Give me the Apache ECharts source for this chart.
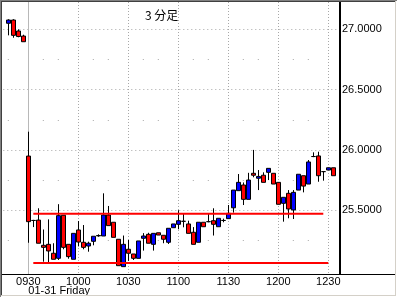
<!DOCTYPE html>
<html><head><meta charset="utf-8">
<script src="https://cdn.jsdelivr.net/npm/echarts@6/dist/echarts.min.js"></script>
<style>html,body{margin:0;padding:0;background:#fff}#c{width:398px;height:299px}</style>
</head><body><div id="c"></div><script>
// x categories (3-minute bars); first/last are empty padding slots
const categories = ['1545','1548','1551','1554','1557',
 '0930','0933','0936','0939','0942','0945','0948','0951','0954','0957',
 '1000','1003','1006','1009','1012','1015','1018','1021','1024','1027',
 '1030','1033','1036','1039','1042','1045','1048','1051','1054','1057',
 '1100','1103','1106','1109','1112','1115','1118','1121','1124','1127',
 '1130','1133','1136','1139','1142','1145','1148','1151','1154','1157',
 '1200','1203','1206','1209','1212','1215','1218','1221','1224','1227',
 '1230','1233','1236'];
const candleTimes = categories.slice(1, 67);
const opens  = [27.05,27.077,26.986,26.944,25.949,25.415,25.418,25.209,25.217,25.143,25.101,25.458,25.217,25.093,25.336,25.234,25.203,25.242,25.287,25.286,25.46,25.40,25.259,25.032,25.176,25.137,25.101,25.267,25.30,25.217,25.313,25.292,25.234,25.355,25.383,25.408,25.386,25.317,25.234,25.40,25.405,25.413,25.363,25.415,25.43,25.52,25.662,25.709,25.59,25.806,25.765,25.79,25.814,25.806,25.731,25.557,25.64,25.502,25.667,25.786,25.717,25.945,25.95,25.82,25.833,25.852];
const closes = [27.077,26.95,26.94,26.897,25.405,25.415,25.226,25.192,25.162,25.093,25.455,25.192,25.115,25.308,25.236,25.192,25.226,25.284,25.29,25.46,25.372,25.275,25.04,25.217,25.143,25.101,25.245,25.286,25.226,25.308,25.294,25.259,25.35,25.386,25.413,25.408,25.308,25.217,25.40,25.363,25.405,25.383,25.433,25.415,25.474,25.667,25.731,25.59,25.75,25.79,25.78,25.731,25.847,25.717,25.549,25.607,25.51,25.648,25.798,25.70,25.90,25.945,25.786,25.82,25.852,25.786];
const lows   = [26.95,26.93,26.934,26.897,25.23,25.36,25.226,25.073,25.06,25.093,25.087,25.176,25.098,25.093,25.2,25.176,25.156,25.209,25.28,25.286,25.372,25.275,25.04,25.032,25.08,25.087,25.101,25.165,25.226,25.165,25.294,25.226,25.22,25.355,25.342,25.358,25.308,25.217,25.234,25.363,25.40,25.29,25.363,25.40,25.43,25.48,25.662,25.543,25.59,25.773,25.667,25.731,25.75,25.717,25.549,25.405,25.433,25.427,25.667,25.648,25.717,25.94,25.736,25.745,25.833,25.786];
const highs  = [27.083,27.083,27.0,26.955,26.151,25.42,25.516,25.34,25.424,25.226,25.55,25.458,25.217,25.308,25.41,25.377,25.239,25.284,25.30,25.64,25.535,25.40,25.259,25.29,25.253,25.137,25.245,25.31,25.313,25.308,25.313,25.292,25.35,25.386,25.50,25.474,25.413,25.36,25.40,25.40,25.474,25.516,25.433,25.43,25.543,25.667,25.80,25.73,25.81,26.0,25.833,25.814,25.847,25.806,25.731,25.607,25.667,25.667,25.798,25.786,25.916,25.98,25.985,25.82,25.852,25.852];
const yLabelValues = [25.5, 26.0, 26.5, 27.0];
const upperLine = [['0933', 25.47], ['1227', 25.47]];
const lowerLine = [['0933', 25.062], ['1230', 25.062]];
const labelTimes = ['0930','1000','1030','1100','1130','1200','1230'];
const dateLabel = '01-31 Friday';
const titleText = '3 分足';

const candleData = categories.map(function (c) {
  const k = candleTimes.indexOf(c);
  if (k < 0) return ['-', '-', '-', '-'];
  return [opens[k], closes[k], lows[k], highs[k]];
});

const chart = echarts.init(document.getElementById('c'), null, {renderer: 'canvas'});
const T = 'rgba(0,0,0,0)', G = '#a8a8a8';
const font = 'Liberation Sans, Arial, sans-serif';
chart.setOption({
  animation: false,
  backgroundColor: '#ffffff',
  title: {text: titleText, left: 145, top: 9, padding: 0,
    textStyle: {fontSize: 12, fontWeight: 'normal', color: '#000', fontFamily: 'Noto Sans CJK JP'}},
  grid: {left: 3.3, top: 2, width: 335, height: 272, containLabel: false, outerBoundsMode: 'none'},
  xAxis: [{
    type: 'category', data: categories, boundaryGap: false, position: 'bottom',
    axisLine: {show: false}, axisTick: {show: false},
    axisLabel: {interval: function (i, v) { return labelTimes.indexOf(v) >= 0; },
      margin: 2, fontSize: 11, color: '#000', fontFamily: font},
    splitLine: {show: true, interval: function (i, v) { return labelTimes.indexOf(v) > 0; },
      lineStyle: {color: G, width: 1, type: [1, 2]}}
  }, {
    type: 'category', data: categories, boundaryGap: false, position: 'bottom', offset: 9,
    axisLine: {show: false}, axisTick: {show: false},
    axisLabel: {interval: function (i, v) { return v === labelTimes[0]; },
      formatter: function () { return dateLabel; }, align: 'left',
      margin: 2, fontSize: 11, color: '#000', fontFamily: font},
    splitLine: {show: true, interval: function (i, v) { return v === labelTimes[0]; },
      lineStyle: {color: '#b8b8b8', width: 1, type: 'solid'}}
  }],
  yAxis: [{
    type: 'value', position: 'right', offset: 1.7, scale: true,
    min: 24.971, max: 27.2264, splitNumber: 5, minInterval: 0.5, maxInterval: 0.5,
    axisLine: {show: true, lineStyle: {color: '#000', width: 2}},
    axisTick: {show: false},
    axisLabel: {margin: 2, fontSize: 11, color: '#000', fontFamily: font,
      formatter: function (v) {
        for (let i = 0; i < yLabelValues.length; i++) if (Math.abs(v - yLabelValues[i]) < 1e-6) return v.toFixed(4);
        return '';
      }},
    splitLine: {show: true, lineStyle: {color: [T, T, G, G, G, G, T], width: 1, type: [1, 3]}}
  }, {
    type: 'value', position: 'left', scale: true,
    min: 24.971, max: 27.2264, splitNumber: 9, minInterval: 0.25, maxInterval: 0.25,
    axisLine: {show: false}, axisTick: {show: false}, axisLabel: {show: false},
    splitLine: {show: true, lineStyle: {color: [T, T, G, T, G, T, G, T, G, T, T], width: 1,
      type: [1, 14, 1, 34], dashOffset: 10.5}}
  }],
  series: [{
    type: 'candlestick', data: candleData, barWidth: 4, z: 2,
    itemStyle: {color: '#0000ff', color0: '#ff0000', borderColor: '#000', borderColor0: '#000',
      borderColorDoji: '#000', borderWidth: 1}
  }, {
    type: 'line', data: upperLine, symbol: 'none', z: 3, silent: true,
    lineStyle: {color: '#ff0000', width: 2}
  }, {
    type: 'line', data: lowerLine, symbol: 'none', z: 3, silent: true,
    lineStyle: {color: '#ff0000', width: 2}
  }],
  graphic: [
    {type: 'line', shape: {x1: 2, y1: 274.5, x2: 395, y2: 274.5}, style: {stroke: '#000', lineWidth: 1}, z: 10},
    {type: 'line', shape: {x1: 0, y1: 0.5, x2: 397, y2: 0.5}, style: {stroke: '#808080', lineWidth: 1}, z: 10},
    {type: 'line', shape: {x1: 0.5, y1: 0, x2: 0.5, y2: 297}, style: {stroke: '#808080', lineWidth: 1}, z: 10},
    {type: 'line', shape: {x1: 1, y1: 1.5, x2: 396, y2: 1.5}, style: {stroke: '#404040', lineWidth: 1}, z: 10},
    {type: 'line', shape: {x1: 1.5, y1: 1, x2: 1.5, y2: 296}, style: {stroke: '#404040', lineWidth: 1}, z: 10},
    {type: 'line', shape: {x1: 395.5, y1: 1, x2: 395.5, y2: 296}, style: {stroke: '#d4d0c8', lineWidth: 1}, z: 10},
    {type: 'line', shape: {x1: 1, y1: 295.5, x2: 396, y2: 295.5}, style: {stroke: '#d4d0c8', lineWidth: 1}, z: 10}
  ]
});
</script></body></html>
